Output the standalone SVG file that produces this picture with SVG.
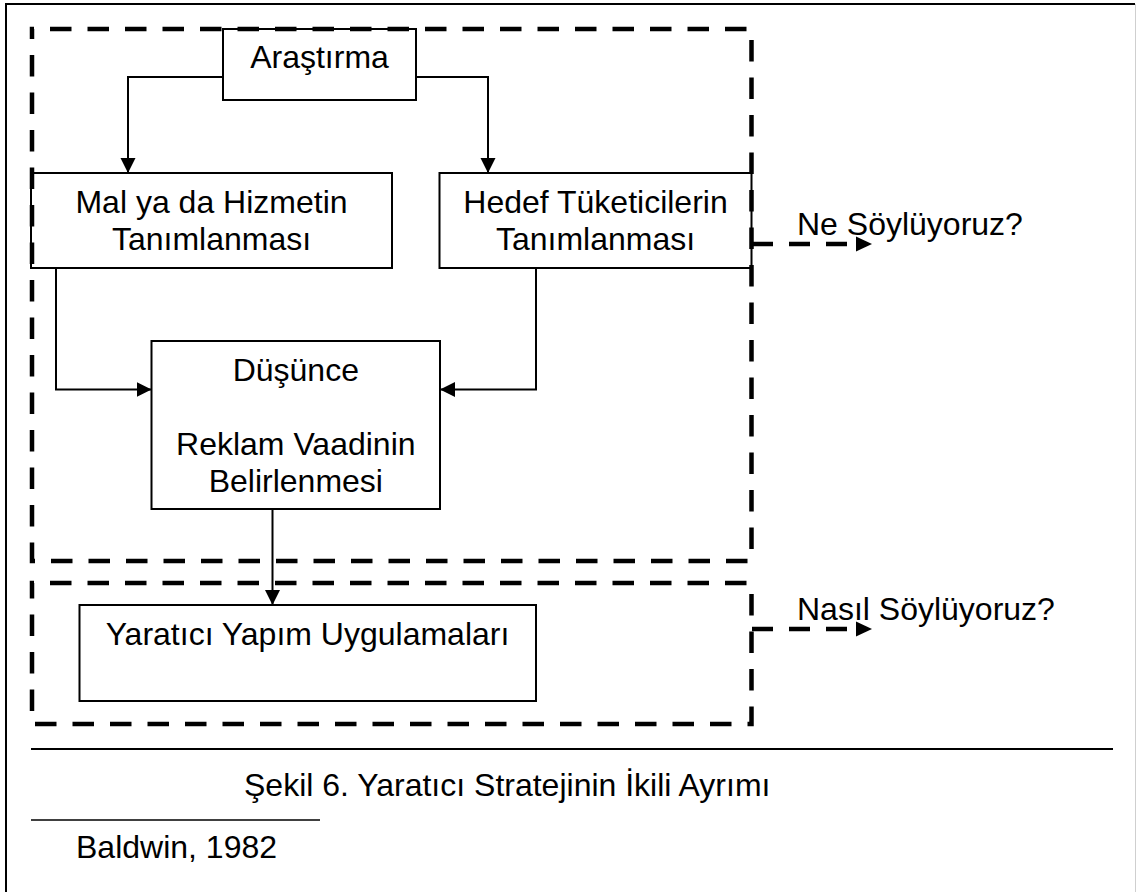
<svg xmlns="http://www.w3.org/2000/svg" width="1136" height="892" viewBox="0 0 1136 892">
  <style>
    .box { fill: #ffffff; stroke: #000000; stroke-width: 2; }
    .dash { fill: none; stroke: #000000; stroke-width: 4.5; stroke-dasharray: 21.5 16; stroke-dashoffset: 19.5; }
    .conn { fill: none; stroke: #000000; stroke-width: 2; }
    .dconn { fill: none; stroke: #000000; stroke-width: 4.5; stroke-dasharray: 21 16; }
    .rule { stroke: #000000; fill: none; }
    text { font-family: "Liberation Sans", Arial, sans-serif; font-size: 32px; fill: #000000; }
    .c { text-anchor: middle; }
  </style>
  <defs>
    <marker id="arrow" markerUnits="userSpaceOnUse" markerWidth="16" markerHeight="16" refX="15" refY="7.5" orient="auto">
      <path d="M0,0 L15,7.5 L0,15 Z" fill="#000000"/>
    </marker>
  </defs>

  <rect width="1136" height="892" fill="#ffffff"/>

  <!-- page frame -->
  <path class="rule" d="M6,892 V4 H1135" stroke-width="2"/>
  <line x1="1135.5" y1="4" x2="1135.5" y2="892" stroke="#cfcfcf" stroke-width="1"/>

  <!-- boxes -->
  <g id="arastirma">
    <rect class="box" x="223" y="29" width="193" height="71"/>
    <text class="c" x="319.5" y="68">Araştırma</text>
  </g>
  <g id="mal-hizmet">
    <rect class="box" x="31" y="173" width="361" height="95"/>
    <text class="c" x="211.5" y="213">Mal ya da Hizmetin</text>
    <text class="c" x="211.5" y="250">Tanımlanması</text>
  </g>
  <g id="hedef-tuketici">
    <rect class="box" x="439.5" y="173" width="312" height="95"/>
    <text class="c" x="595.5" y="213">Hedef Tüketicilerin</text>
    <text class="c" x="595.5" y="250">Tanımlanması</text>
  </g>
  <g id="dusunce">
    <rect class="box" x="151.5" y="341" width="288.5" height="168"/>
    <text class="c" x="295.8" y="381">Düşünce</text>
    <text class="c" x="295.8" y="455">Reklam Vaadinin</text>
    <text class="c" x="295.8" y="492">Belirlenmesi</text>
  </g>
  <g id="yaratici-yapim">
    <rect class="box" x="79.5" y="605" width="456.5" height="96"/>
    <text class="c" x="307.5" y="645">Yaratıcı Yapım Uygulamaları</text>
  </g>

  <!-- dashed groupings -->
  <g id="ne-soyluyoruz">
    <rect class="dash" x="32" y="29" width="719.5" height="532"/>
    <text x="797" y="235">Ne Söylüyoruz?</text>
  </g>
  <g id="nasil-soyluyoruz">
    <rect class="dash" x="32" y="583" width="719.5" height="141"/>
    <text x="797" y="620">Nasıl Söylüyoruz?</text>
  </g>

  <!-- connectors -->
  <g id="connectors">
    <path class="conn" d="M223,77 H128 V173" marker-end="url(#arrow)"/>
    <path class="conn" d="M416,77 H488 V173" marker-end="url(#arrow)"/>
    <path class="conn" d="M56,268 V389.5 H151.5" marker-end="url(#arrow)"/>
    <path class="conn" d="M536,268 V389.5 H440" marker-end="url(#arrow)"/>
    <path class="conn" d="M272.5,509 V605" marker-end="url(#arrow)"/>
    <path class="dconn" d="M752,244 H850"/>
    <polygon points="856,236.5 872,244 856,251.5" fill="#000000"/>
    <path class="dconn" d="M752,629 H850"/>
    <polygon points="856,621.5 872,629 856,636.5" fill="#000000"/>
  </g>

  <!-- caption and source -->
  <line class="rule" x1="31" y1="749" x2="1113" y2="749" stroke-width="2"/>
  <text x="244" y="796">Şekil 6. Yaratıcı Stratejinin İkili Ayrımı</text>
  <line class="rule" x1="31" y1="820" x2="320" y2="820" stroke-width="1.5"/>
  <text x="76" y="858">Baldwin, 1982</text>
</svg>
